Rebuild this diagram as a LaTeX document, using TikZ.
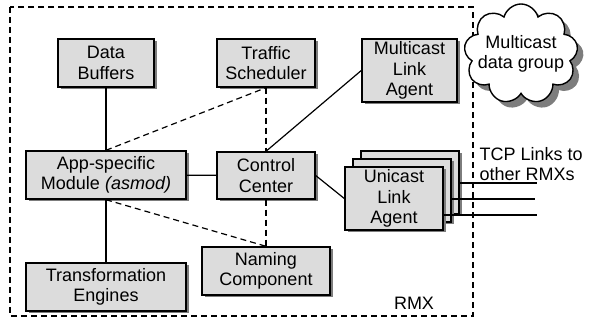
\documentclass[tikz,border=0pt]{standalone}
\usepackage{fontspec}
\setmainfont{Liberation Sans}
\usetikzlibrary{shadows,shapes.symbols}
\definecolor{boxgray}{RGB}{220,220,220}
\definecolor{shadegray}{RGB}{125,125,125}
\begin{document}
\begin{tikzpicture}[x=1pt, y=-1pt,
  font=\fontsize{18}{20.5}\selectfont,
  blk/.style={draw, line width=1.4pt, fill=boxgray, align=center, inner sep=0pt,
    drop shadow={shadow xshift=2.5pt, shadow yshift=-2.5pt, fill=shadegray, opacity=1}},
  link/.style={line width=1.2pt},
  ctl/.style={line width=1.2pt, dash pattern=on 6pt off 4pt}]
\useasboundingbox (0,0) rectangle (589,328);
\draw[line width=1.5pt, dash pattern=on 6pt off 4pt] (10,7) rectangle (473,316);

\node[blk, minimum width=96pt, minimum height=48pt] (buf) at (106,63) {Data\\Buffers};
\node[blk, minimum width=98pt, minimum height=48pt] (sched) at (266,63) {Traffic\\Scheduler};
\node[blk, minimum width=95pt, minimum height=63pt] (mcast) at (409.5,70.5) {Multicast\\Link\\Agent};
\node[blk, minimum width=160pt, minimum height=48pt] (asmod) at (106,175) {App-specific\\Module \textit{(asmod)}};
\node[blk, minimum width=98pt, minimum height=47pt] (ctrl) at (266,175.5) {Control\\Center};
\node[blk, minimum width=98pt, minimum height=63pt] (ucast3) at (410,182.5) {};
\node[blk, minimum width=98pt, minimum height=63pt] (ucast2) at (402,190.5) {};
\node[blk, minimum width=98pt, minimum height=63pt] (ucast1) at (394,198.5) {Unicast\\Link\\Agent};
\node[blk, minimum width=160pt, minimum height=48pt] (trans) at (106,287) {Transformation\\Engines};
\node[blk, minimum width=128pt, minimum height=48pt] (naming) at (266,271) {Naming\\Component};

\node[cloud, draw, line width=1.4pt, fill=white, cloud puffs=9, cloud ignores aspect, inner sep=0pt,
  minimum width=114pt, minimum height=100pt,
  drop shadow={shadow xshift=6pt, shadow yshift=-6pt, fill=shadegray, opacity=1},
  label={[align=center]center:Multicast\\data group}] (grp) at (521,54) {};

\node[align=left, anchor=west] (tcp) at (476,164) {TCP Links to\\other RMXs};
\node (rmx) at (414,303) {RMX};

\coordinate (l1) at (537,183);
\coordinate (l2) at (535,199);
\coordinate (l3) at (537,215);

\draw[link] (buf) -- (asmod);
\draw[ctl] (asmod.north) -- (sched.south);
\draw[ctl] (sched) -- (ctrl);
\draw[link] (ctrl.north) -- (mcast.west);
\draw[link] (asmod) -- (ctrl);
\draw[link] (ctrl.east) -- (ucast1.west);
\draw[link] (asmod) -- (trans);
\draw[ctl] (asmod.south) -- (naming.north);
\draw[ctl] (ctrl) -- (naming);
\draw[link] (ucast3.east |- l1) -- (l1);
\draw[link] (ucast2.east |- l2) -- (l2);
\draw[link] (ucast1.east |- l3) -- (l3);
\end{tikzpicture}
\end{document}
